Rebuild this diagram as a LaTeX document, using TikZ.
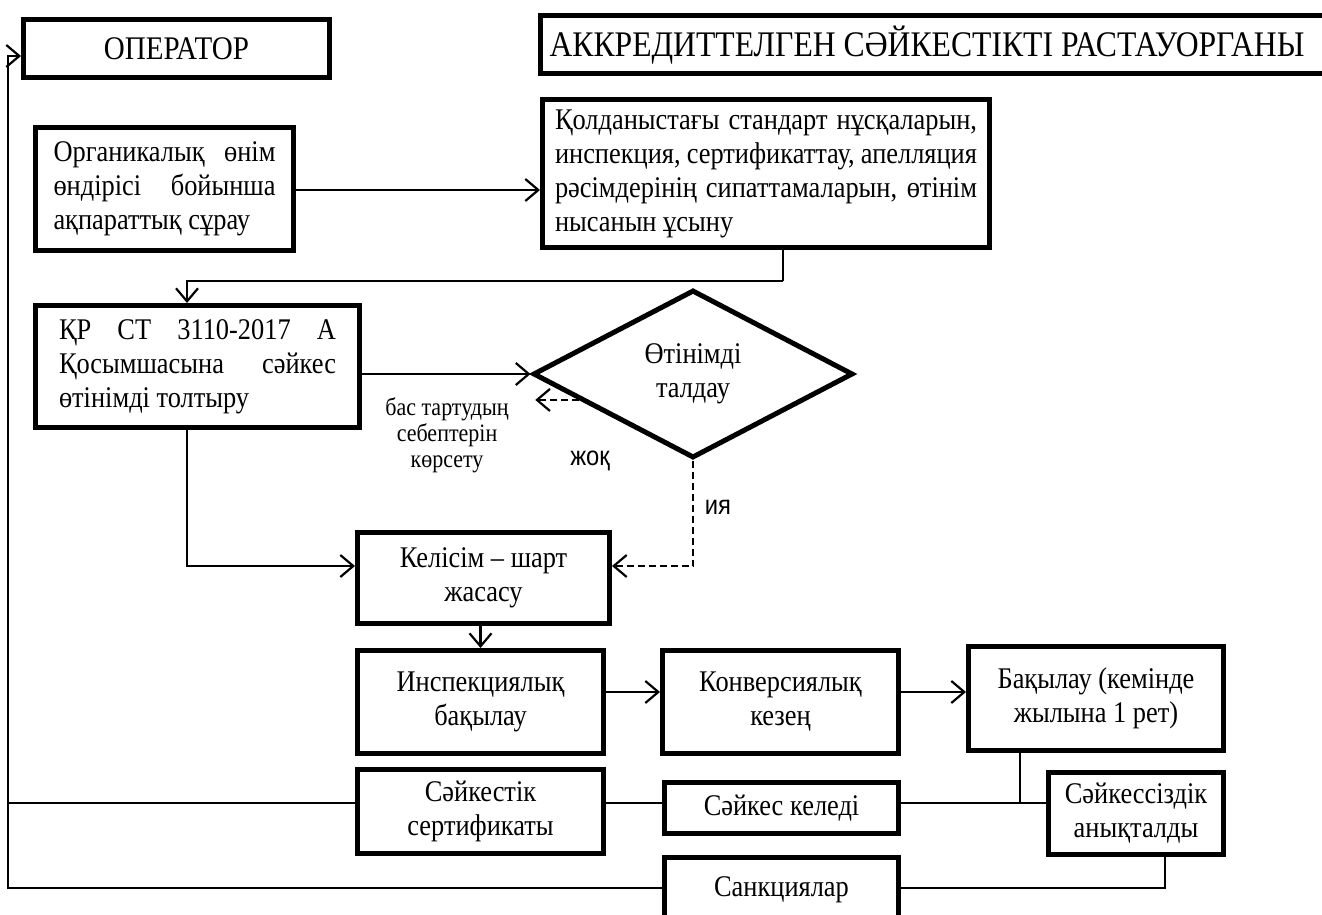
\documentclass[tikz,border=0pt]{standalone}
\usepackage{fontspec}
\setmainfont{Liberation Serif}[FakeStretch=0.88]
\newfontfamily\sansf{Liberation Sans}[FakeStretch=0.88]
\usetikzlibrary{arrows.meta,shapes.geometric,calc}
\newcommand\jl[2]{\makebox[#1][s]{#2}}
\newcommand\rtx[2]{\raisebox{#1}{\begin{tabular}{@{}c@{}}#2\end{tabular}}}
\begin{document}
\begin{tikzpicture}[x=1pt,y=-1pt,
  box/.style={draw, line width=5pt, rectangle, inner sep=0pt, align=center,
    font=\fontsize{30}{34}\selectfont},
  jbox/.style={box, align=left},
  conn/.style={line width=2.2pt},
  arr/.style={conn, -{Straight Barb[length=13pt,width=22pt]}},
  darr/.style={arr, dash pattern=on 7pt off 4pt},
  lbl/.style={font=\fontsize{25}{26}\selectfont, align=center},
  slbl/.style={font=\sansf\fontsize{27}{28}\selectfont}]
\useasboundingbox (0,0) rectangle (1322,915);
\node[box, minimum width=306pt, minimum height=58pt, font=\fontsize{33}{36}\selectfont] (op) at (176.5,49) {ОПЕРАТОР};
\node[box, minimum width=800pt, minimum height=58pt, font=\fontsize{36}{38}\selectfont] (acc) at (940,45)
  {\hspace*{-26pt}АККРЕДИТТЕЛГЕН СӘЙКЕСТІКТІ РАСТАУОРГАНЫ};
\node[jbox, minimum width=258pt, minimum height=123pt] (org) at (164.5,189)
  {\jl{222pt}{Органикалық өнім}\\ \jl{222pt}{өндірісі бойынша}\\ ақпараттық сұрау};
\node[jbox, minimum width=447pt, minimum height=148pt] (qol) at (766,173.5)
  {\jl{422pt}{Қолданыстағы стандарт нұсқаларын,}\\ \jl{422pt}{инспекция, сертификаттау, апелляция}\\
   \jl{422pt}{рәсімдерінің сипаттамаларын, өтінім}\\ нысанын ұсыну};
\node[jbox, minimum width=324pt, minimum height=122pt] (kr) at (197.5,366.5)
  {\jl{277pt}{ҚР СТ 3110-2017 А}\\ \jl{277pt}{Қосымшасына сәйкес}\\ өтінімді толтыру};
\node[draw, diamond, aspect=2, line width=5pt, minimum width=320pt, minimum height=168pt,
  inner sep=0pt, align=center, font=\fontsize{30}{34}\selectfont] (dia) at (693,374) {Өтінімді\\талдау};
\node[box, minimum width=252pt, minimum height=91pt] (kel) at (483.5,578) {Келісім – шарт\\жасасу};
\node[box, minimum width=246pt, minimum height=103pt] (insp) at (480.5,702) {\rtx{6pt}{Инспекциялық\\бақылау}};
\node[box, minimum width=236pt, minimum height=103pt] (konv) at (780.5,702) {\rtx{6pt}{Конверсиялық\\кезең}};
\node[box, minimum width=255pt, minimum height=104pt] (bak) at (1096,698.5) {\rtx{5pt}{Бақылау (кемінде\\жылына 1 рет)}};
\node[box, minimum width=246pt, minimum height=84pt] (sert) at (480.5,811.5) {\rtx{3pt}{Сәйкестік\\сертификаты}};
\node[box, minimum width=234pt, minimum height=51pt] (sk) at (781.5,808) {Сәйкес келеді};
\node[box, minimum width=175pt, minimum height=82pt] (sz) at (1136,813.5) {Сәйкессіздік\\анықталды};
\node[box, minimum width=234pt, minimum height=66pt] (sank) at (781.5,890) {\raisebox{5pt}{Санкциялар}};
\node[lbl] (why) at (447,435) {бас тартудың\\себептерін\\көрсету};
\node[slbl] (no) at (590,461) {жоқ};
\node[slbl] (yes) at (718,507) {ия};
% connectors
\draw[arr] (org.east |- 0,190) -- (qol.west |- 0,190);
\coordinate (q1) at (783,281);
\draw[conn] (q1 |- qol.south) -- (q1);
\draw[arr] (q1) -| ([xshift=-10.5pt]kr.north);
\draw[arr] (kr.east |- dia.west) -- (dia.west);
\coordinate (b1) at ($(dia.west)!0.3!(dia.south)$);
\coordinate (b2) at ($(b1)+(-44,0)$);
\draw[darr] (b1) -- (b2);
\draw[darr] (dia.south) |- ([yshift=12pt]kel.east);
\draw[arr] ([xshift=-10.5pt]kr.south) |- ([yshift=12pt]kel.west);
\draw[arr] (kel.south -| insp.north) -- (insp.north);
\draw[arr] ([yshift=10pt]insp.east) -- ([yshift=10pt]insp.east -| konv.west);
\draw[arr] ([yshift=10pt]konv.east) -- ([yshift=10pt]konv.east -| bak.west);
\coordinate (jn) at (1020,803);
\draw[conn] (bak.south -| jn) -- (jn);
\draw[conn] ([yshift=8.5pt]sert.east) -- ([yshift=8.5pt]sert.east -| sk.west);
\draw[conn] ([yshift=8.5pt]sert.east -| sk.east) -- ([yshift=8.5pt]sert.east -| sz.west);
\coordinate (lt) at (8,56);
\draw[arr] ([yshift=8.5pt]sert.west) -| (lt) -- (lt -| op.west);
\coordinate (lb) at (8,888);
\draw[conn] (lb -| sank.west) -| (lt);
\draw[conn] (lb -| sank.east) -| ([xshift=29pt]sz.south);
\end{tikzpicture}
\end{document}
